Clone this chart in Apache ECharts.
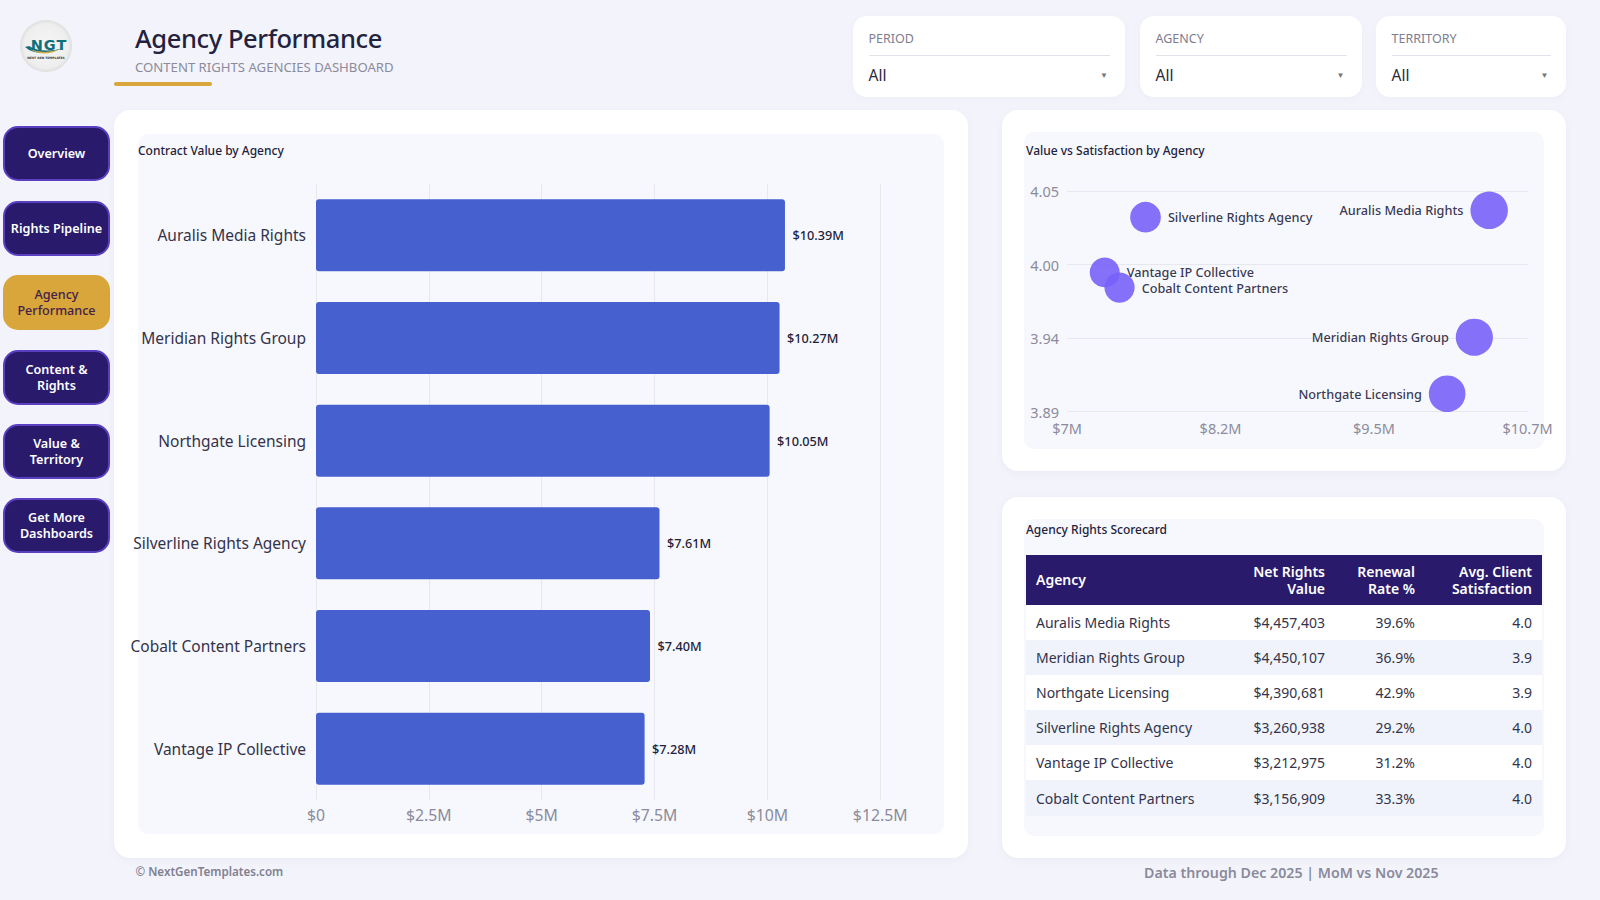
<!DOCTYPE html>
<html><head><meta charset="utf-8">
<script src="https://cdn.jsdelivr.net/npm/echarts@6/dist/echarts.min.js"></script>
<style>
*{box-sizing:border-box}
html,body{margin:0;padding:0;width:1600px;height:900px;overflow:hidden;background:#F3F4FB;font-family:"Noto Sans","Open Sans",sans-serif;color:#22223a}
.abs{position:absolute}
.card{position:absolute;background:#fff;border-radius:16px;box-shadow:0 2px 8px rgba(60,60,120,.06)}
.panel{position:absolute;background:#F7F8FD;border-radius:10px}
.nav{position:absolute;left:3px;width:107px;height:55px;border-radius:15px;background:#2A1A6B;border:2px solid #5A3FC0;padding-top:1px;color:#fff;font-weight:600;font-size:12.6px;line-height:16px;display:flex;align-items:center;justify-content:center;text-align:center}
.nav.on{background:#D8A63B;border-color:#D8A63B;color:#44204a;font-weight:500}
.filter{position:absolute;top:16px;height:81px;background:#fff;border-radius:14px;box-shadow:0 2px 8px rgba(60,60,120,.04)}
.filter .l{position:absolute;left:16px;right:15px;top:15px;height:25px;font-size:12.5px;color:#7d7d90;border-bottom:1px solid #E2E3EA;line-height:16px}
.filter .v{position:absolute;left:16px;top:48px;font-size:15.5px;line-height:22px;color:#2a2a3c}
.filter .a{position:absolute;right:17px;top:53px;font-size:8px;color:#777;line-height:12px}
#tbl{position:absolute;left:1026px;top:555px;width:516px;border-collapse:collapse;table-layout:fixed;font-size:14px}
#tbl th{background:#2A1A6B;color:#fff;font-weight:600;height:49.5px;line-height:17px;padding:0 10px;text-align:right}
#tbl td{height:35.2px;padding:0 10px;text-align:right;color:#33334a;background:#fff}
#tbl tr:nth-child(odd) td{background:#F0F3FB}
#tbl th:first-child,#tbl td:first-child{text-align:left}
</style></head><body>

<svg class="abs" style="left:20px;top:20px" width="52" height="52" viewBox="0 0 52 52">
  <defs><radialGradient id="lg" cx=".5" cy=".5" r=".5"><stop offset="0" stop-color="#f6f6f6"/><stop offset=".85" stop-color="#eeeeee"/><stop offset="1" stop-color="#dedede"/></radialGradient></defs>
  <circle cx="26" cy="26" r="26" fill="url(#lg)"/>
  <path d="M5 27 Q17 38 44 28 Q22 34 9 26Z" fill="#0F6F7C"/>
  <path d="M10 29 Q24 35 40 29 Q24 38 10 29Z" fill="#D3A94A"/>
  <text x="29" y="30" text-anchor="middle" font-family="DejaVu Sans" font-weight="700" font-size="14.5" letter-spacing="1" fill="#0F6F7C">NGT</text>
  <text x="26" y="39" text-anchor="middle" font-family="DejaVu Sans" font-weight="700" font-size="3" fill="#333">NEXT GEN TEMPLATES</text>
</svg>

<div class="abs" style="left:135px;top:19px;font-size:25.5px;letter-spacing:-.4px;line-height:38px;font-weight:500;color:#22223f">Agency Performance</div>
<div class="abs" style="left:135px;top:57px;font-size:13.15px;line-height:20px;color:#8b8b9c">CONTENT RIGHTS AGENCIES DASHBOARD</div>
<div class="abs" style="left:114px;top:82px;width:98px;height:3.5px;background:#D8A63B;border-radius:2px"></div>

<div id="navs"></div>
<div id="filters"></div>

<div class="card" style="left:114px;top:110px;width:854px;height:748px"></div>
<div class="panel" style="left:138px;top:134px;width:806px;height:700px"></div>
<div id="barChart" class="abs" style="left:114px;top:110px;width:854px;height:748px"></div>

<div class="card" style="left:1002px;top:110px;width:564px;height:361px"></div>
<div class="panel" style="left:1024px;top:132px;width:520px;height:317px"></div>
<div id="scatterChart" class="abs" style="left:1002px;top:110px;width:564px;height:361px"></div>

<div class="card" style="left:1002px;top:497px;width:564px;height:361px"></div>
<div class="panel" style="left:1024px;top:519px;width:520px;height:317px"></div>
<div class="abs" style="left:1026px;top:521px;font-size:12px;line-height:17px;font-weight:500;color:#22223a">Agency Rights Scorecard</div>
<table id="tbl"></table>

<div class="abs" style="left:135.5px;top:863px;font-size:11.6px;line-height:18px;font-weight:600;color:#808090">© NextGenTemplates.com</div>
<div class="abs" style="left:1144px;top:863px;font-size:14.2px;line-height:20px;font-weight:600;color:#8a8a9c">Data through Dec 2025 | MoM vs Nov 2025</div>

<script>
const navLabels = ['Overview','Rights Pipeline','Agency<br>Performance','Content &amp;<br>Rights','Value &amp;<br>Territory','Get More<br>Dashboards'];
const filterLabels = ['PERIOD','AGENCY','TERRITORY'];

const agencies = ['Auralis Media Rights','Meridian Rights Group','Northgate Licensing','Silverline Rights Agency','Cobalt Content Partners','Vantage IP Collective'];
const contractValue = [10.39,10.27,10.05,7.61,7.40,7.28];
const satisfaction = [4.036,3.944,3.903,4.031,3.980,3.991];
const scatterXTicks = [6.975,8.217,9.458,10.7];
const scatterYTicks = [3.89,3.9433,3.9967,4.05];

const scoreAgencies = ['Auralis Media Rights','Meridian Rights Group','Northgate Licensing','Silverline Rights Agency','Vantage IP Collective','Cobalt Content Partners'];
const netRightsValue = ['$4,457,403','$4,450,107','$4,390,681','$3,260,938','$3,212,975','$3,156,909'];
const renewalRate = ['39.6%','36.9%','42.9%','29.2%','31.2%','33.3%'];
const avgSatisfaction = ['4.0','3.9','3.9','4.0','4.0','4.0'];
const scoreHeaders = ['Agency','Net Rights<br>Value','Renewal<br>Rate %','Avg. Client<br>Satisfaction'];

const FONT = '"Noto Sans","Open Sans",sans-serif';
const GREY = '#8b8b9c', INK = '#22223a', GRID = '#E6E7EF';

/* chrome */
const navTops = [126,200.5,275,349.5,424,498];
document.getElementById('navs').innerHTML = navLabels.map((t,i)=>
  `<div class="nav${i===2?' on':''}" style="top:${navTops[i]}px">${t}</div>`).join('');
const fBoxes = [[852.5,272.5],[1139.5,222],[1375.5,190]];
document.getElementById('filters').innerHTML = filterLabels.map((t,i)=>
  `<div class="filter" style="left:${fBoxes[i][0]}px;width:${fBoxes[i][1]}px"><div class="l">${t}</div><div class="v">All</div><div class="a">▼</div></div>`).join('');

/* table */
const colW = [199,110,90,117];
document.getElementById('tbl').innerHTML =
  '<colgroup>'+colW.map(w=>`<col style="width:${w}px">`).join('')+'</colgroup>'+
  '<tr>'+scoreHeaders.map(h=>`<th>${h}</th>`).join('')+'</tr>'+
  scoreAgencies.map((a,i)=>`<tr><td>${a}</td><td>${netRightsValue[i]}</td><td>${renewalRate[i]}</td><td>${avgSatisfaction[i]}</td></tr>`).join('');

/* bar chart */
const bar = echarts.init(document.getElementById('barChart'),null,{renderer:'svg'});
bar.setOption({
  animation:false,
  title:{text:'Contract Value by Agency',left:24,top:31,padding:0,textStyle:{fontFamily:FONT,fontSize:12,fontWeight:500,color:INK,lineHeight:18}},
  grid:{left:202,right:87.8,top:74,bottom:58},
  xAxis:{type:'value',min:0,max:12.5,interval:2.5,
    axisLine:{show:false},axisTick:{show:false},
    splitLine:{lineStyle:{color:GRID,width:1}},
    axisLabel:{margin:7,fontFamily:FONT,fontSize:15.8,color:GREY,formatter:v=>v===0?'$0':`$${v}M`}},
  yAxis:{type:'category',inverse:true,data:agencies,
    axisLine:{show:false},axisTick:{show:false},
    axisLabel:{margin:10,fontFamily:FONT,fontSize:15.5,color:'#33334a'}},
  series:[{type:'bar',data:contractValue,barWidth:72,
    itemStyle:{color:'#4660D0',borderRadius:3},
    label:{show:true,position:'right',distance:7.5,fontFamily:FONT,fontSize:12.7,fontWeight:500,color:INK,formatter:p=>`$${p.value.toFixed(2)}M`}}]
});

/* scatter chart */
const sc = echarts.init(document.getElementById('scatterChart'),null,{renderer:'svg'});
const leftLabelled = new Set(['Auralis Media Rights','Meridian Rights Group','Northgate Licensing']);
sc.setOption({
  animation:false,
  title:{text:'Value vs Satisfaction by Agency',left:24,top:31,padding:0,textStyle:{fontFamily:FONT,fontSize:12,fontWeight:500,color:INK,lineHeight:18}},
  grid:{left:65,right:38.5,top:81,bottom:59.3},
  xAxis:{type:'value',min:6.975,max:10.7,
    axisLine:{show:false},splitLine:{show:false},
    axisTick:{show:false,customValues:scatterXTicks},
    axisLabel:{customValues:scatterXTicks,margin:9,fontFamily:FONT,fontSize:14.5,color:GREY,hideOverlap:false,showMinLabel:true,showMaxLabel:true,formatter:v=>`$${+v.toFixed(1)}M`}},
  yAxis:{type:'value',min:3.89,max:4.05,
    axisLine:{show:false},
    axisTick:{show:false,customValues:scatterYTicks},
    splitLine:{show:true,lineStyle:{color:GRID,width:1}},
    axisLabel:{customValues:scatterYTicks,margin:8,fontFamily:FONT,fontSize:14.5,color:GREY,formatter:v=>v.toFixed(2)}},
  series:[{type:'scatter',
    data:agencies.map((a,i)=>({name:a,value:[contractValue[i],satisfaction[i]],
      label:{position:leftLabelled.has(a)?'left':'right'}})),
    symbolSize:d=>12.5+2.4*d[0],
    itemStyle:{color:'#7860FA',opacity:.9},
    label:{show:true,distance:7,fontFamily:FONT,fontSize:12.7,fontWeight:500,color:INK,formatter:p=>p.name}}]
});
</script>
</body></html>
